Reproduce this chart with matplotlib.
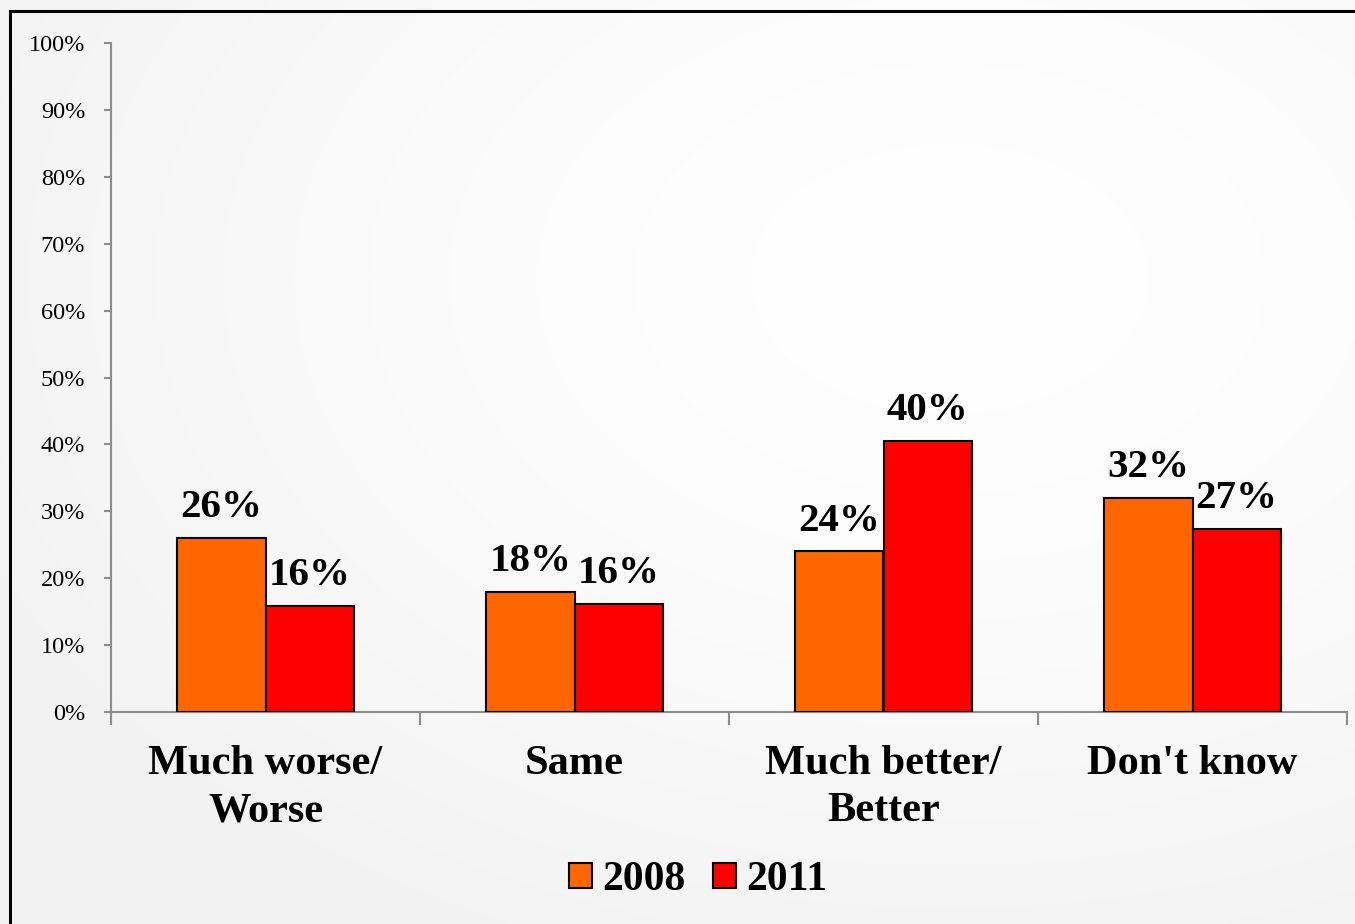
import matplotlib
matplotlib.use("Agg")
import matplotlib.pyplot as plt
import numpy as np
from matplotlib.patches import Rectangle

categories = ["Much worse/\nWorse", "Same", "Much better/\nBetter", "Don't know"]
series_names = ["2008", "2011"]
values_2008 = [26.0, 18.0, 24.0, 32.0]
values_2011 = [15.9, 16.2, 40.5, 27.4]
labels_2008 = ["26%", "18%", "24%", "32%"]
labels_2011 = ["16%", "16%", "40%", "27%"]
yticks = [0, 10, 20, 30, 40, 50, 60, 70, 80, 90, 100]
ytick_labels = [f"{v}%" for v in yticks]

plt.rcParams['font.family'] = ['Liberation Serif', 'DejaVu Serif']

W, H = 1355, 924
fig = plt.figure(figsize=(W / 100, H / 100), dpi=100)
fig.patch.set_facecolor('#fafafa')

# subtle background gradient (lighter toward the centre-right)
bgax = fig.add_axes([0, 0, 1, 1], zorder=0)
bgax.set_axis_off()
yy, xx = np.mgrid[0:H:4, 0:W:4]
d = np.sqrt(((xx - W * 0.7) / W) ** 2 + ((yy - H * 0.3) / H) ** 2)
bg = 1.0 - 0.05 * np.clip(d / 0.8, 0, 1) ** 1.5
bgax.imshow(np.dstack([bg, bg, bg]), aspect='auto', extent=(0, 1, 0, 1),
            interpolation='bilinear')
bgax.set_xlim(0, 1)
bgax.set_ylim(0, 1)

# frame
bgax.add_patch(Rectangle((10 / W, -0.05), 1.2, 1 - 11 / H + 0.05,
                         fill=False, edgecolor='black', linewidth=2.2,
                         clip_on=False))

ax = fig.add_axes([111 / W, 1 - 712 / H, (1347 - 111) / W, (712 - 43) / H], zorder=2)
ax.set_facecolor('none')

x = np.arange(len(categories))
bw = 0.285
b1 = ax.bar(x - bw / 2, values_2008, bw, color='#FF6600', edgecolor='black',
            linewidth=1.5, label=series_names[0], zorder=3)
b2 = ax.bar(x + bw / 2, values_2011, bw, color='#FF0000', edgecolor='black',
            linewidth=1.5, label=series_names[1], zorder=3)

for bars, labs in ((b1, labels_2008), (b2, labels_2011)):
    for rect, lab in zip(bars, labs):
        ax.annotate(lab, (rect.get_x() + rect.get_width() / 2, rect.get_height()),
                    xytext=(0, 15), textcoords='offset points', ha='center',
                    va='baseline', fontsize=29.5, fontweight='bold', zorder=4)

ax.set_xlim(-0.5, len(categories) - 0.5)
ax.set_ylim(0, 100)
ax.set_yticks(yticks)
ax.set_yticklabels(ytick_labels, fontsize=17.5)
ax.set_xticks(x)
ax.set_xticklabels(categories, fontsize=30.5, fontweight='bold', linespacing=1.3)
ax.set_xticks(np.arange(len(categories) + 1) - 0.5, minor=True)
ax.tick_params(axis='x', which='major', length=0, pad=24)
ax.tick_params(axis='x', which='minor', length=9, color='#8c8c8c', width=1.5)
ax.tick_params(axis='y', length=5, color='#8c8c8c', width=1.5, pad=13.5)

for s in ('top', 'right'):
    ax.spines[s].set_visible(False)
for s in ('left', 'bottom'):
    ax.spines[s].set_color('#8c8c8c')
    ax.spines[s].set_linewidth(1.5)

leg = fig.legend(handles=[b1, b2], labels=series_names, loc='center',
                 bbox_to_anchor=(698 / W, 1 - 880 / H), ncol=2, frameon=False,
                 prop={'family': 'Liberation Serif', 'weight': 'bold', 'size': 30},
                 handlelength=0.55, handleheight=0.55, handletextpad=0.25,
                 columnspacing=0.65)
leg.set_zorder(5)

fig.savefig('out.png', dpi=100, facecolor=fig.get_facecolor())
